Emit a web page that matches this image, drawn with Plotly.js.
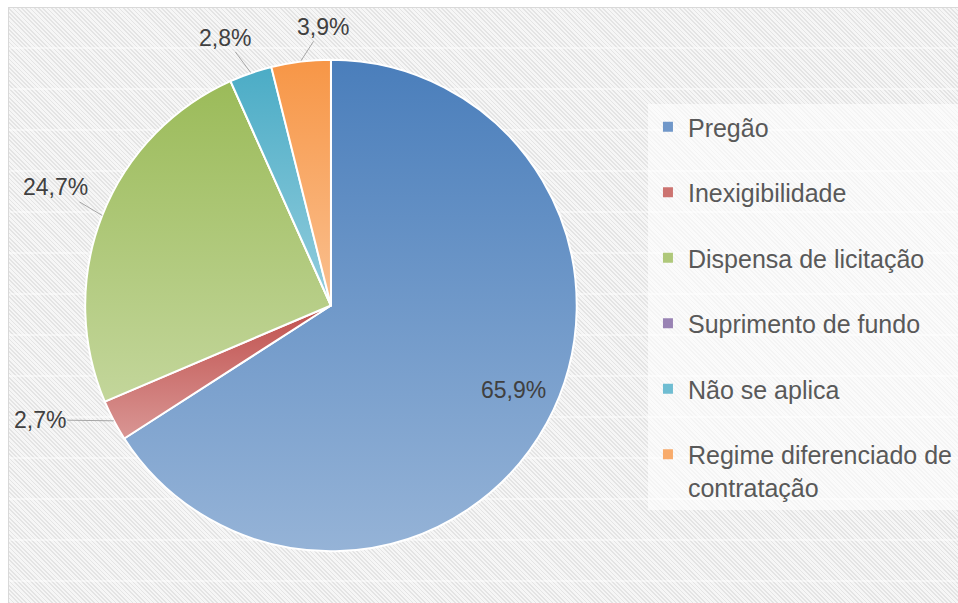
<!DOCTYPE html>
<html>
<head>
<meta charset="utf-8">
<script src="https://cdn.plot.ly/plotly-3.0.1.min.js"></script>
<style>
html,body{margin:0;padding:0;background:#fff;width:958px;height:603px;overflow:hidden;}
#bg{position:absolute;left:8px;top:7px;width:950px;height:596px;box-sizing:border-box;
 border-left:1px solid #d9d9d9;border-top:1px solid #d9d9d9;
 background:
  repeating-linear-gradient(to bottom, rgba(255,255,255,0) 0px, rgba(255,255,255,0) 39px, rgba(255,255,255,0.45) 39px, rgba(255,255,255,0.45) 41px),
  repeating-linear-gradient(45deg, #e4e4e4 0px, #e4e4e4 1.2px, #f6f6f6 1.2px, #f6f6f6 3px);}
#chart{position:absolute;left:0;top:0;width:958px;height:603px;}
</style>
</head>
<body>
<div id="bg"></div>
<div id="chart"></div>
<script>
// ---- data ----
const categories = ['Pregão', 'Inexigibilidade', 'Dispensa de licitação', 'Suprimento de fundo', 'Não se aplica', 'Regime diferenciado de<br>contratação'];
const shares = [65.9, 2.7, 24.7, 0, 2.8, 3.9];
const topColors = ['#4a7ebb', '#c0504d', '#9bbb59', '#8064a2', '#4bacc6', '#f79646'];
const bottomColors = ['#95b3d7', '#d99694', '#c3d69b', '#b3a2c7', '#93cddd', '#fac090'];
const midColors = ['#7097c9', '#cc7370', '#afc87a', '#9983b4', '#6fbdd2', '#f8ab6b'];

// label placement (styling): inside radius fraction, or pixel offset of outside labels
const labelStyle = [
  {inside: 0.845},
  {ax: -74, ay: -1},
  {ax: -47, ay: -28},
  null,
  {ax: -26, ay: -35},
  {ax: 22, ay: -34}
];

const W = 958, H = 603;
const pieDomain = {x: [0.0892, 0.6039], y: [0.0846, 0.9022]};

const pieTrace = {
  type: 'pie',
  labels: categories,
  values: shares,
  sort: false,
  direction: 'clockwise',
  rotation: 0,
  showlegend: false,
  textinfo: 'none',
  marker: {colors: midColors, line: {color: '#ffffff', width: 2}},
  domain: pieDomain,
  hoverinfo: 'label+percent'
};

const legendTraces = categories.map((c, i) => ({
  type: 'scatter',
  mode: 'markers',
  x: [null], y: [null],
  name: c,
  legendgroup: 'g' + i,
  showlegend: true,
  marker: {symbol: 'square', size: 10, color: midColors[i], line: {width: 0}}
}));

// data labels derived from the shares (mid-angle of each slice)
const total = shares.reduce((a, b) => a + b, 0);
const cx = (pieDomain.x[0] + pieDomain.x[1]) / 2 * W;
const cy = H - (pieDomain.y[0] + pieDomain.y[1]) / 2 * H;
const R = Math.min((pieDomain.x[1] - pieDomain.x[0]) * W, (pieDomain.y[1] - pieDomain.y[0]) * H) / 2;
const annotations = [];
let cum = 0;
shares.forEach((v, i) => {
  const mid = (cum + v / 2) / total * 2 * Math.PI;
  cum += v;
  const st = labelStyle[i];
  if (!st || v === 0) return;
  const txt = v.toFixed(1).replace('.', ',') + '%';
  const rr = st.inside ? R * st.inside : R;
  const px = cx + rr * Math.sin(mid);
  const py = cy - rr * Math.cos(mid);
  const a = {
    x: px / W, y: 1 - py / H, xref: 'paper', yref: 'paper',
    text: txt,
    font: {family: 'Liberation Sans, Arial, sans-serif', size: 23, color: '#404040'}
  };
  if (st.inside) {
    a.showarrow = false;
  } else {
    a.showarrow = true;
    a.arrowhead = 0;
    a.arrowwidth = 1;
    a.arrowcolor = '#a6a6a6';
    a.ax = st.ax;
    a.ay = st.ay;
    a.standoff = 0;
  }
  annotations.push(a);
});

const layout = {
  width: W, height: H,
  margin: {l: 0, r: 0, t: 0, b: 0},
  paper_bgcolor: 'rgba(0,0,0,0)',
  plot_bgcolor: 'rgba(0,0,0,0)',
  xaxis: {visible: false},
  yaxis: {visible: false},
  showlegend: true,
  annotations: annotations,
  legend: {
    x: 650 / W, xanchor: 'left',
    y: (H - 104) / H, yanchor: 'top',
    bgcolor: 'rgba(255,255,255,0.6)',
    borderwidth: 0,
    tracegroupgap: 30,
    valign: 'top',
    itemclick: false,
    font: {family: 'Liberation Sans, Arial, sans-serif', size: 25, color: '#595959'}
  }
};

Plotly.newPlot('chart', [pieTrace].concat(legendTraces), layout, {displayModeBar: false, staticPlot: true}).then(function () {
  const svg = document.querySelector('#chart svg.main-svg');
  const ns = 'http://www.w3.org/2000/svg';
  let defs = svg.querySelector('defs');
  if (!defs) { defs = document.createElementNS(ns, 'defs'); svg.insertBefore(defs, svg.firstChild); }
  topColors.forEach(function (tc, i) {
    const g = document.createElementNS(ns, 'linearGradient');
    g.setAttribute('id', 'sliceGrad' + i);
    g.setAttribute('x1', '0'); g.setAttribute('y1', '0');
    g.setAttribute('x2', '0'); g.setAttribute('y2', '1');
    const s1 = document.createElementNS(ns, 'stop');
    s1.setAttribute('offset', '0'); s1.setAttribute('stop-color', tc);
    const s2 = document.createElementNS(ns, 'stop');
    s2.setAttribute('offset', '1'); s2.setAttribute('stop-color', bottomColors[i]);
    g.appendChild(s1); g.appendChild(s2);
    defs.appendChild(g);
  });
  document.querySelectorAll('#chart g.slice').forEach(function (sl, k) {
    const d = sl.__data__;
    const idx = (d && d.i !== undefined) ? d.i : k;
    const p = sl.querySelector('path.surface');
    if (p) p.style.fill = 'url(#sliceGrad' + idx + ')';
  });
});
</script>
</body>
</html>
